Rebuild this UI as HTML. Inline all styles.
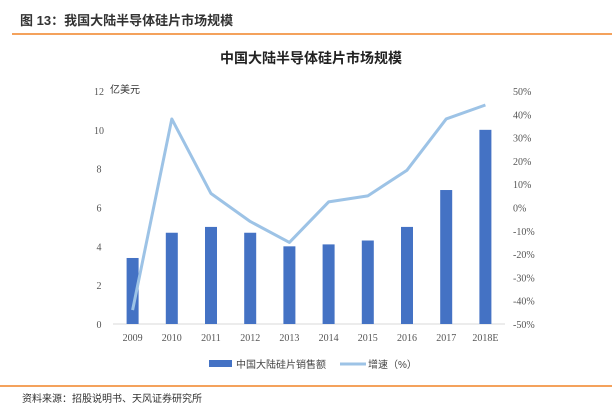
<!DOCTYPE html>
<html><head><meta charset="utf-8"><style>
body{margin:0;width:612px;height:411px;background:#fff;overflow:hidden;font-family:"Liberation Sans","Noto Sans CJK SC",sans-serif}
svg text{font-family:"Liberation Serif","Noto Sans CJK SC",serif}
</style></head><body>
<svg width="612" height="411">
<text x="20" y="25" font-size="13" font-weight="bold" fill="#333" style="font-family:'Liberation Sans','Noto Sans CJK SC',sans-serif">图 13：我国大陆半导体硅片市场规模</text>
<rect x="12" y="33" width="600" height="2" fill="#f4a25c"/>
<text x="311" y="63" font-size="14" font-weight="bold" text-anchor="middle" fill="#222" style="font-family:'Liberation Sans','Noto Sans CJK SC',sans-serif">中国大陆半导体硅片市场规模</text>
<text x="110" y="93" font-size="10" fill="#333" style="font-family:'Liberation Sans','Noto Sans CJK SC',sans-serif">亿美元</text>
<g id="chart"></g>
<rect x="209" y="360" width="23" height="7" fill="#4472c4"/>
<text x="236" y="368" font-size="10" fill="#444" style="font-family:'Liberation Sans','Noto Sans CJK SC',sans-serif">中国大陆硅片销售额</text>
<line x1="340" y1="364" x2="366" y2="364" stroke="#9dc3e6" stroke-width="3"/>
<text x="368" y="368" font-size="10" fill="#444" style="font-family:'Liberation Sans','Noto Sans CJK SC',sans-serif">增速（%）</text>
<rect x="0" y="385" width="612" height="2" fill="#f4a25c"/>
<text x="22" y="402" font-size="10" fill="#333" style="font-family:'Liberation Sans','Noto Sans CJK SC',sans-serif">资料来源：招股说明书、天风证券研究所</text>
</svg>
<script>
const categories=["2009","2010","2011","2012","2013","2014","2015","2016","2017","2018E"];
const sales=[3.4,4.7,5.0,4.7,4.0,4.1,4.3,5.0,6.9,10.0];
const growth=[-44,38,6,-6,-15,2.4,5,16,38,44];
const leftTicks=[0,2,4,6,8,10,12];
const rightTicks=[-50,-40,-30,-20,-10,0,10,20,30,40,50];
const NS="http://www.w3.org/2000/svg";
const g=document.getElementById('chart');
const y0=324,y1=91,x0=113,x1=505;
const step=(x1-x0)/categories.length;
const xc=i=>x0+step*(i+0.5);
const yL=v=>y0-(v/12)*(y0-y1);
const yR=v=>y0-((v+50)/100)*(y0-y1);
function mk(t,a){const e=document.createElementNS(NS,t);for(const k in a)e.setAttribute(k,a[k]);g.appendChild(e);return e;}
const base=mk('line',{x1:x0,x2:x1,y1:y0,y2:y0,stroke:'#d9d9d9'});


leftTicks.forEach(v=>{const t=mk('text',{x:99,y:yL(v)+4,'font-size':10,'text-anchor':'middle',fill:'#555'});t.textContent=v;

});
rightTicks.forEach(v=>{const t=mk('text',{x:513,y:yR(v)+4,'font-size':10,fill:'#555'});t.textContent=v+'%';

});
categories.forEach((c,i)=>{const t=mk('text',{x:xc(i),y:341,'font-size':10,'text-anchor':'middle',fill:'#555'});t.textContent=c;

});
sales.forEach((v,i)=>{const r=mk('rect',{x:xc(i)-6,y:yL(v),width:12,height:y0-yL(v),fill:'#4472c4'});

});
const pl=mk('polyline',{points:growth.map((v,i)=>xc(i)+','+yR(v)).join(' '),fill:'none',stroke:'#9dc3e6','stroke-width':3,'stroke-linejoin':'round'});


</script>
</body></html>
